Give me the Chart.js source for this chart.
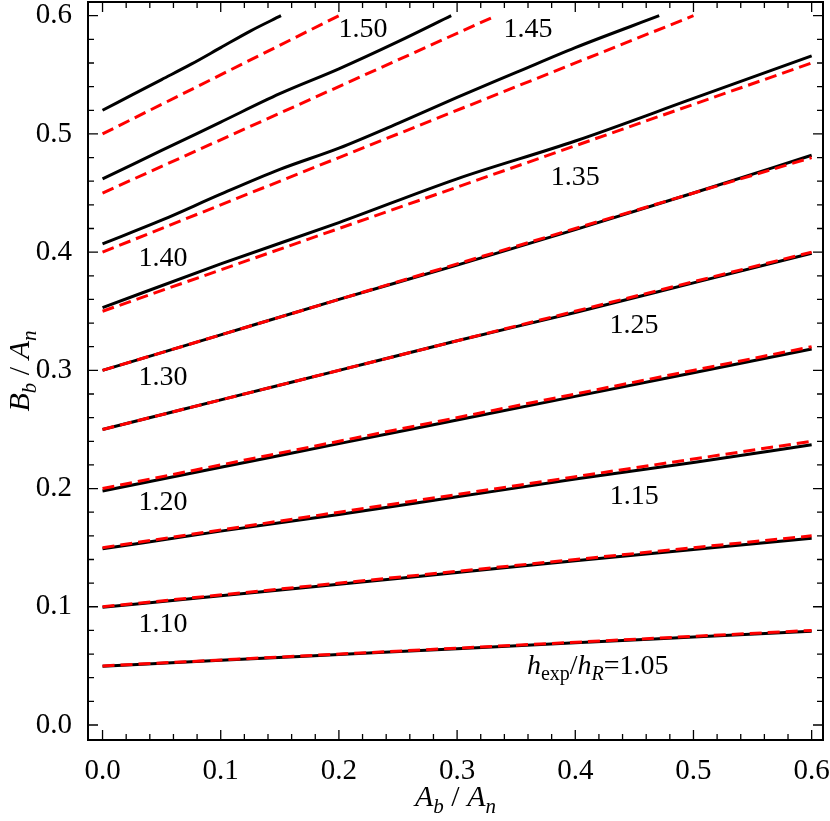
<!DOCTYPE html>
<html>
<head>
<meta charset="utf-8">
<script src="https://cdn.jsdelivr.net/npm/chart.js@4"></script>
<style>
  body { margin: 0; background: #fff; }
  #wrap { width: 830px; height: 821px; }
</style>
</head>
<body>
<div id="wrap"><canvas id="chart" width="830" height="821"></canvas></div>
<script>
// contour levels h_exp / h_R
const levels = [1.05, 1.10, 1.15, 1.20, 1.25, 1.30, 1.35, 1.40, 1.45, 1.50];

// black solid curves
const xFull = [0, 0.1, 0.2, 0.3, 0.4, 0.5, 0.6];
const black105 = [0.0497, 0.0547, 0.0596, 0.0645, 0.0695, 0.0744, 0.0793];
const black110 = [0.0995, 0.1093, 0.119, 0.129, 0.139, 0.1485, 0.158];
const black115 = [0.149, 0.164, 0.178, 0.193, 0.208, 0.222, 0.237];
const black120 = [0.198, 0.218, 0.238, 0.258, 0.278, 0.298, 0.318];
const black125 = [0.250, 0.275, 0.300, 0.325, 0.349, 0.374, 0.399];
const black130 = [0.300, 0.330, 0.360, 0.389, 0.419, 0.450, 0.482];
const black135 = [0.353, 0.390, 0.425, 0.462, 0.494, 0.530, 0.566];
const x140 = [0, 0.05, 0.1, 0.15, 0.2, 0.25, 0.3, 0.35, 0.4, 0.471];
const black140 = [0.407, 0.427, 0.449, 0.470, 0.488, 0.509, 0.531, 0.552, 0.573, 0.600];
const x145 = [0, 0.05, 0.1, 0.15, 0.2, 0.25, 0.295];
const black145 = [0.462, 0.486, 0.510, 0.534, 0.555, 0.578, 0.600];
const x150 = [0, 0.025, 0.05, 0.075, 0.1, 0.125, 0.151];
const black150 = [0.520, 0.533, 0.546, 0.559, 0.573, 0.587, 0.600];

// red dashed straight lines: start at x = 0, end points
const redStartY = [0.05, 0.10, 0.15, 0.20, 0.25, 0.30, 0.35, 0.40, 0.45, 0.50];
const redEndX = [0.6, 0.6, 0.6, 0.6, 0.6, 0.6, 0.6, 0.5, 0.333, 0.2];
const redEndY = [0.08, 0.16, 0.24, 0.32, 0.40, 0.48, 0.56, 0.60, 0.60, 0.60];

// contour label positions (data coords, centre of the digits)
const labelX = [0.419, 0.0512, 0.450, 0.0512, 0.4497, 0.0512, 0.400, 0.0512, 0.360, 0.2204];
const labelY = [0.0508, 0.0863, 0.195, 0.190, 0.340, 0.296, 0.4645, 0.396, 0.590, 0.590];

const blackX = [xFull, xFull, xFull, xFull, xFull, xFull, xFull, x140, x145, x150];
const blackY = [black105, black110, black115, black120, black125, black130, black135, black140, black145, black150];

const datasets = [];
levels.forEach((h, i) => {
  datasets.push({
    label: 'black ' + h,
    data: blackX[i].map((x, k) => ({x: x, y: blackY[i][k]})),
    showLine: true,
    borderColor: '#000',
    borderWidth: 3,
    cubicInterpolationMode: 'monotone',
    pointRadius: 0,
    fill: false,
    order: 1
  });
});
levels.forEach((h, i) => {
  datasets.push({
    label: 'red ' + h,
    data: [{x: 0, y: redStartY[i]}, {x: redEndX[i], y: redEndY[i]}],
    showLine: true,
    borderColor: '#ff0000',
    borderWidth: 3,
    borderDash: [12, 6],
    pointRadius: 0,
    fill: false,
    order: 0
  });
});

const SERIF = '"Liberation Serif", "DejaVu Serif", serif';

function drawRuns(ctx, runs, cx, baseY) {
  let w = 0;
  runs.forEach(r => { ctx.font = r[1]; w += ctx.measureText(r[0]).width; });
  let x = cx - w / 2;
  runs.forEach(r => {
    ctx.font = r[1];
    ctx.fillText(r[0], x, baseY + r[2]);
    x += ctx.measureText(r[0]).width;
  });
}

const decorations = {
  id: 'decorations',
  afterDraw(chart) {
    const {ctx, chartArea: a, scales} = chart;
    const sx = scales.x, sy = scales.y;
    ctx.save();
    ctx.strokeStyle = '#000';
    ctx.lineWidth = 1.3;
    sx.ticks.forEach(t => {
      const p = sx.getPixelForValue(t.value);
      const len = t.label ? 10 : 6;
      ctx.beginPath();
      ctx.moveTo(p, a.bottom); ctx.lineTo(p, a.bottom - len);
      ctx.moveTo(p, a.top); ctx.lineTo(p, a.top + len);
      ctx.stroke();
    });
    sy.ticks.forEach(t => {
      const p = sy.getPixelForValue(t.value);
      const len = t.label ? 10 : 6;
      ctx.beginPath();
      ctx.moveTo(a.left, p); ctx.lineTo(a.left + len, p);
      ctx.moveTo(a.right, p); ctx.lineTo(a.right - len, p);
      ctx.stroke();
    });
    ctx.lineWidth = 2;
    ctx.strokeRect(a.left, a.top, a.right - a.left, a.bottom - a.top);

    // contour labels
    ctx.fillStyle = '#000';
    ctx.textBaseline = 'alphabetic';
    const big = '28px ' + SERIF, bigI = 'italic 28px ' + SERIF;
    const sub = '20px ' + SERIF, subI = 'italic 20px ' + SERIF;
    levels.forEach((h, i) => {
      const cx = sx.getPixelForValue(labelX[i]);
      const by = sy.getPixelForValue(labelY[i]) + 9.5;
      if (i === 0) {
        drawRuns(ctx, [['h', bigI, 0], ['exp', sub, 6], ['/', big, 0], ['h', bigI, 0], ['R', subI, 6], ['=' + h.toFixed(2), big, 0]], cx, by);
      } else {
        drawRuns(ctx, [[h.toFixed(2), big, 0]], cx, by);
      }
    });

    // axis titles
    const tI = 'italic 30px ' + SERIF, tS = 'italic 21px ' + SERIF, tN = '30px ' + SERIF;
    drawRuns(ctx, [['A', tI, 0], ['b', tS, 7], [' / ', tN, 0], ['A', tI, 0], ['n', tS, 7]], (a.left + a.right) / 2, 806);
    ctx.translate(29, (a.top + a.bottom) / 2);
    ctx.rotate(-Math.PI / 2);
    drawRuns(ctx, [['B', tI, 0], ['b', tS, 7], [' / ', tN, 0], ['A', tI, 0], ['n', tS, 7]], 0, 0);
    ctx.restore();
  }
};

function tickLabel(v) {
  return Math.abs(v * 10 - Math.round(v * 10)) < 1e-6 ? v.toFixed(1) : '';
}

function noPad(scale) {
  scale.paddingTop = 0;
  scale.paddingBottom = 0;
  scale.paddingLeft = 0;
  scale.paddingRight = 0;
}

new Chart(document.getElementById('chart'), {
  type: 'scatter',
  data: {datasets: datasets},
  options: {
    responsive: false,
    animation: false,
    layout: {padding: {top: 2, right: 7, left: 0, bottom: 0}},
    plugins: {legend: {display: false}, tooltip: {enabled: false}},
    scales: {
      x: {
        type: 'linear',
        min: -0.0123,
        max: 0.6096,
        grid: {display: false},
        border: {display: false},
        ticks: {
          stepSize: 0.02,
          includeBounds: false,
          autoSkip: false,
          maxRotation: 0,
          padding: 6,
          color: '#000',
          font: {family: SERIF, size: 29},
          callback: tickLabel
        },
        afterFit(scale) { scale.height = 81; noPad(scale); }
      },
      y: {
        type: 'linear',
        min: -0.0127,
        max: 0.6116,
        grid: {display: false},
        border: {display: false},
        ticks: {
          stepSize: 0.02,
          includeBounds: false,
          autoSkip: false,
          padding: 8,
          color: '#000',
          font: {family: SERIF, size: 29},
          callback: tickLabel
        },
        afterFit(scale) { scale.width = 88; noPad(scale); }
      }
    }
  },
  plugins: [decorations]
});
</script>
</body>
</html>
